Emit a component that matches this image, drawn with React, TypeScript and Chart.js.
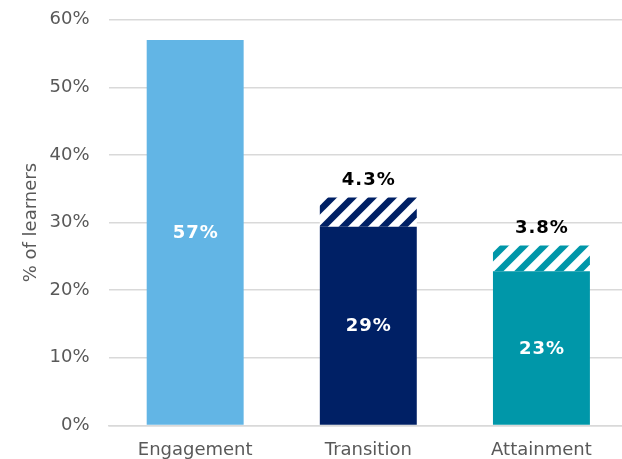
import React, { useEffect, useRef } from "react";
import { Chart, registerables } from "chart.js";

Chart.register(...registerables);

const categories = ["Engagement", "Transition", "Attainment"];
const baseValues = [57, 29.4, 22.8];
const extraValues = [0, 4.3, 3.8];
const baseColors = ["#62b5e5", "#002065", "#0097a9"];
const yTicks = [0, 10, 20, 30, 40, 50, 60];

const FONT = "'DejaVu Sans', Verdana, sans-serif";

// Draws "/" diagonal stripes inside the increment bars, plus the value labels.
const hatchAndLabels = {
  id: "hatchAndLabels",
  afterDatasetsDraw(chart: any) {
    const ctx = chart.ctx;
    const m1 = chart.getDatasetMeta(1);
    m1.data.forEach((bar: any, i: number) => {
      if (!extraValues[i]) return;
      const { x, y, base, width } = bar.getProps(["x", "y", "base", "width"], true);
      const left = x - width / 2;
      const top = Math.min(y, base);
      const h = Math.abs(base - y);
      ctx.save();
      ctx.beginPath();
      ctx.rect(left, top, width, h);
      ctx.clip();
      ctx.strokeStyle = baseColors[i];
      ctx.lineWidth = 6.5;
      const period = 20;
      for (let c = Math.floor((left + top) / period) * period - period; c <= left + width + top + h + period; c += period) {
        ctx.beginPath();
        ctx.moveTo(c - top - h - 10, top + h + 10);
        ctx.lineTo(c - top + 10, top - 10);
        ctx.stroke();
      }
      ctx.restore();
    });

    ctx.save();
    ctx.textAlign = "center";
    ctx.textBaseline = "middle";
    ctx.font = `bold 18px ${FONT}`;
    (ctx as any).letterSpacing = "1px";
    const m0 = chart.getDatasetMeta(0);
    m0.data.forEach((bar: any, i: number) => {
      const v = baseValues[i];
      if (!v) return;
      ctx.fillStyle = "#ffffff";
      ctx.fillText(`${Math.round(v)}%`, bar.x + 0.5, (bar.y + bar.base) / 2 + 1);
    });
    m1.data.forEach((bar: any, i: number) => {
      const v = extraValues[i];
      if (!v) return;
      ctx.fillStyle = "#000000";
      ctx.fillText(`${v.toFixed(1)}%`, bar.x + 0.5, bar.y - 17);
    });
    ctx.restore();
  },
};

export default function App() {
  const ref = useRef<HTMLCanvasElement | null>(null);

  useEffect(() => {
    if (!ref.current) return;
    const chart = new Chart(ref.current, {
      type: "bar",
      data: {
        labels: categories,
        datasets: [
          {
            data: baseValues,
            backgroundColor: baseColors,
            borderWidth: 0,
          },
          {
            data: extraValues,
            backgroundColor: "#ffffff",
            borderWidth: 0,
          },
        ],
      },
      options: {
        animation: false,
        responsive: false,
        maintainAspectRatio: false,
        layout: { padding: { left: 6, top: 0, right: 0, bottom: 0 } },
        datasets: {
          bar: { categoryPercentage: 1, barPercentage: 0.56 },
        },
        plugins: {
          legend: { display: false },
          tooltip: { enabled: false },
        },
        scales: {
          x: {
            stacked: true,
            grid: { display: false, drawTicks: false },
            border: { display: true, color: "#d9d9d9", width: 1.5 },
            ticks: {
              color: "#595959",
              font: { family: FONT, size: 18 },
              padding: 14,
            },
          },
          y: {
            stacked: true,
            min: 0,
            max: 60,
            afterBuildTicks(scale: any) {
              scale.ticks = yTicks.map((v) => ({ value: v }));
            },
            grid: { color: "#d9d9d9", lineWidth: 1.5, drawTicks: false },
            border: { display: false },
            ticks: {
              color: "#595959",
              font: { family: FONT, size: 18 },
              padding: 19,
              callback: (v: any) => `${v}%`,
            },
            title: {
              display: true,
              text: "% of learners",
              color: "#595959",
              font: { family: FONT, size: 18 },
              padding: { top: 15, bottom: -12 },
            },
          },
        },
      },
      plugins: [hatchAndLabels],
    });
    return () => chart.destroy();
  }, []);

  return (
    <div
      style={{
        position: "fixed",
        left: 0,
        top: 0,
        width: 622,
        height: 459,
        overflow: "hidden",
        background: "#ffffff",
      }}
    >
      <canvas
        ref={ref}
        width={628}
        height={485}
        style={{ display: "block", position: "absolute", left: 0, top: -10 }}
      />
    </div>
  );
}
